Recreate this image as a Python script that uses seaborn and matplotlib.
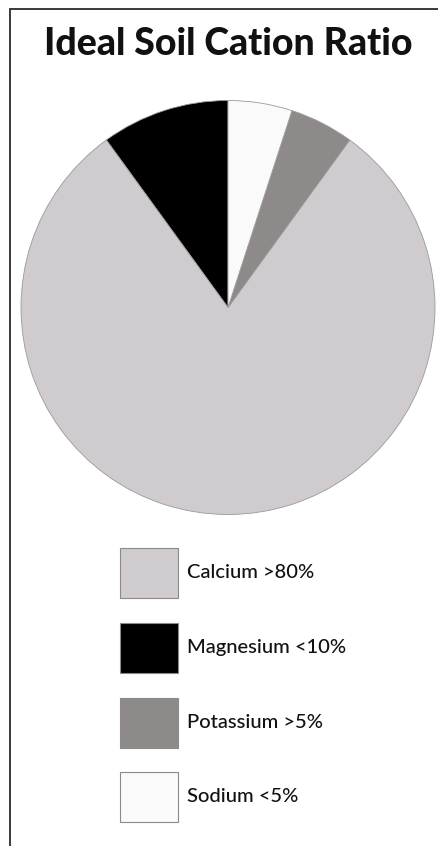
import matplotlib
matplotlib.use("Agg")
import matplotlib.pyplot as plt
from matplotlib.lines import Line2D
from matplotlib.patches import Rectangle
import seaborn as sns

# --- chart data ---
CATIONS = ["Calcium", "Magnesium", "Potassium", "Sodium"]
SHARES = [80, 10, 5, 5]
LEGEND_TEXT = ["Calcium >80%", "Magnesium <10%", "Potassium >5%", "Sodium <5%"]
COLORS = ["#cfcbcf", "#000000", "#8e8a8a", "#fafafa"]

W, H = 438, 846
DPI = 100

sns.set_theme(style="white")
plt.rcParams["font.family"] = ["Lato", "DejaVu Sans"]

fig = plt.figure(figsize=(W / DPI, H / DPI), dpi=DPI)
fig.patch.set_facecolor("white")

# pie axes: centre (228, 307) px, radius 207 px
cx, cy, r = 228, 307.5, 207
ax = fig.add_axes([(cx - r) / W, (H - cy - r) / H, 2 * r / W, 2 * r / H])

# draw counter-clockwise from the top: Magnesium, Calcium, Potassium, Sodium
pie_order = [1, 0, 2, 3]
ax.pie([SHARES[i] for i in pie_order],
       colors=[COLORS[i] for i in pie_order],
       startangle=90, counterclock=True, radius=1,
       wedgeprops=dict(edgecolor="#9a9a9a", linewidth=0.6))
ax.set_xlim(-1.0, 1.0)
ax.set_ylim(-1.0, 1.0)
ax.set_aspect("equal")
ax.axis("off")

fig.text(228 / W, 1 - 44 / H, "Ideal Soil Cation Ratio", ha="center", va="center",
         fontsize=27, fontweight="black", color="#111111")

# legend, laid out in pixel space on its own axes
lax = fig.add_axes([0, 0, 1, 1])
lax.set_xlim(0, W)
lax.set_ylim(H, 0)
lax.axis("off")
box_x, box_w, box_h = 120, 58, 50
row_top = [548, 623, 698, 772]
for top_px, color, text in zip(row_top, COLORS, LEGEND_TEXT):
    lax.add_patch(Rectangle((box_x, top_px), box_w, box_h, facecolor=color,
                            edgecolor="#8a8a8a", linewidth=0.8))
    lax.text(box_x + box_w + 9, top_px + box_h / 2, text, ha="left", va="center",
             fontsize=14.5, fontweight="medium", color="#111111")

# frame: top and left rules only
top = 1 - 9.5 / H
left = 9.5 / W
fig.add_artist(Line2D([left, 1], [top, top], transform=fig.transFigure,
                      color="#3a3a3a", linewidth=1.4))
fig.add_artist(Line2D([left, left], [0, top], transform=fig.transFigure,
                      color="#3a3a3a", linewidth=1.4))

fig.savefig("out.png", dpi=DPI)
